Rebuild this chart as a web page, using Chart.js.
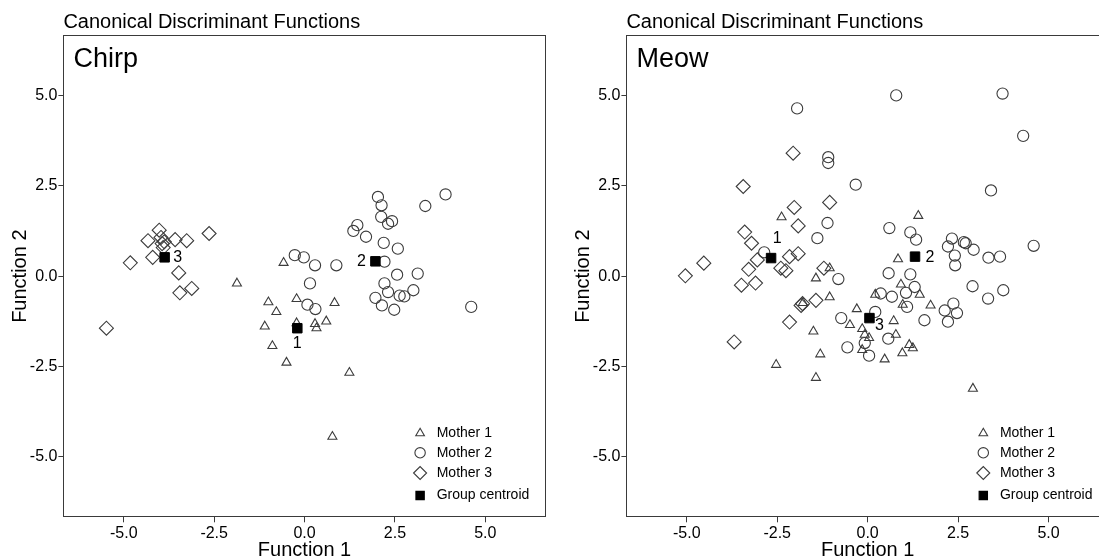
<!DOCTYPE html>
<html>
<head>
<meta charset="utf-8">
<script src="https://cdn.jsdelivr.net/npm/chart.js@4/dist/chart.umd.min.js"></script>
<style>
    html, body { margin: 0; padding: 0; background: #fff; overflow: hidden; }
    #wrap { position: relative; width: 1099px; height: 560px; overflow: hidden; }
    canvas { position: absolute; top: 0; }
    #chirpCanvas { left: 0; }
    #meowCanvas { left: 549px; }
</style>
</head>
<body>
<div id="wrap">
    <canvas id="chirpCanvas" width="549" height="560"></canvas>
    <canvas id="meowCanvas" width="562" height="560"></canvas>
</div>
<script>
// axis ticks (both functions, both panels)
const tickValues = [-5, -2.5, 0, 2.5, 5];
const axisMin = -6.67;
const axisMax = 6.67;

// Chirp panel: [function 1, function 2]
const chirpMother1 = [
    [-0.58, 0.37], [-1.87, -0.20], [-1.00, -0.72], [-0.78, -0.99], [-0.22, -0.63],
    [0.83, -0.74], [-1.10, -1.39], [-0.22, -1.30], [0.29, -1.32], [0.33, -1.44],
    [0.60, -1.25], [-0.89, -1.93], [-0.50, -2.39], [1.24, -2.67], [0.77, -4.44]
];
const chirpMother2 = [
    [-0.27, 0.58], [-0.02, 0.52], [0.29, 0.30], [0.88, 0.30], [2.03, 2.19],
    [2.13, 1.96], [1.46, 1.41], [1.35, 1.25], [1.70, 1.09], [2.12, 1.64],
    [2.31, 1.45], [2.42, 1.52], [2.19, 0.92], [2.58, 0.76], [3.34, 1.94],
    [3.90, 2.26], [2.21, 0.40], [2.56, 0.04], [3.13, 0.07], [0.15, -0.20],
    [2.21, -0.20], [2.31, -0.44], [1.96, -0.60], [2.14, -0.81], [2.48, -0.93],
    [2.63, -0.54], [2.76, -0.56], [3.01, -0.39], [4.61, -0.85], [0.08, -0.79],
    [0.30, -0.91]
];
const chirpMother3 = [
    [-4.82, 0.37], [-4.20, 0.52], [-4.33, 0.98], [-4.02, 1.27], [-3.97, 1.07],
    [-3.94, 0.90], [-3.91, 0.79], [-3.88, 0.95], [-3.58, 1.01], [-3.26, 0.98],
    [-2.64, 1.18], [-3.48, 0.09], [-3.45, -0.46], [-3.12, -0.34], [-5.48, -1.44]
];
const chirpCentroids = [[-0.20, -1.44], [1.96, 0.41], [-3.87, 0.52]];
const chirpCentroidLabels = ['1', '2', '3'];

// Meow panel
const meowMother1 = [
    [-2.38, 1.63], [1.40, 1.67], [0.84, 0.47], [-1.05, 0.22], [-1.43, -0.06],
    [0.92, -0.23], [-1.05, -0.58], [-1.79, -0.74], [0.21, -0.51], [1.44, -0.51],
    [0.97, -0.79], [1.74, -0.81], [-0.30, -0.91], [-0.49, -1.35], [-0.15, -1.46],
    [-0.08, -1.62], [0.04, -1.71], [0.72, -1.24], [0.78, -1.62], [-1.50, -1.53],
    [-1.31, -2.16], [-2.53, -2.45], [-1.43, -2.81], [-0.15, -2.04], [0.47, -2.30],
    [0.96, -2.13], [1.15, -1.90], [1.25, -1.99], [2.91, -3.11]
];
const meowMother2 = [
    [-1.95, 4.64], [0.79, 5.00], [3.73, 5.05], [4.30, 3.88], [-1.09, 3.29],
    [-1.09, 3.13], [-0.33, 2.53], [3.41, 2.37], [-1.11, 1.47], [-1.39, 1.05],
    [0.60, 1.33], [1.18, 1.21], [1.34, 1.01], [2.33, 1.04], [2.22, 0.82],
    [2.66, 0.94], [2.71, 0.91], [2.93, 0.73], [2.41, 0.57], [2.42, 0.30],
    [3.34, 0.51], [3.66, 0.54], [4.59, 0.84], [-2.86, 0.66], [0.58, 0.08],
    [1.18, 0.05], [-0.81, -0.08], [0.36, -0.48], [0.67, -0.57], [1.06, -0.46],
    [1.30, -0.30], [1.09, -0.85], [0.21, -0.99], [-0.73, -1.16], [1.57, -1.22],
    [2.13, -0.95], [2.37, -0.76], [2.47, -1.02], [2.22, -1.26], [2.90, -0.28],
    [3.33, -0.62], [3.75, -0.39], [0.57, -1.73], [-0.08, -1.85], [-0.56, -1.97],
    [0.04, -2.20]
];
const meowMother3 = [
    [-2.06, 3.40], [-3.44, 2.48], [-2.03, 1.90], [-1.05, 2.04], [-1.92, 1.39],
    [-3.40, 1.22], [-3.21, 0.91], [-4.53, 0.36], [-3.05, 0.45], [-3.29, 0.19],
    [-2.16, 0.54], [-1.92, 0.62], [-2.40, 0.22], [-2.26, 0.15], [-1.21, 0.22],
    [-5.04, 0.01], [-3.49, -0.25], [-3.10, -0.19], [-1.43, -0.67], [-1.84, -0.81],
    [-1.80, -0.76], [-2.16, -1.27], [-3.69, -1.82]
];
const meowCentroids = [[-2.67, 0.50], [1.31, 0.54], [0.05, -1.16]];
const meowCentroidLabels = ['1', '2', '3'];

const legendLabels = ['Mother 1', 'Mother 2', 'Mother 3', 'Group centroid'];

const FONT = "'Liberation Sans', Arial, Helvetica, sans-serif";
const MARK = '#3c3c3c';
const FRAME = '#3a3a3a';

Chart.defaults.font.family = FONT;
Chart.defaults.color = '#000';

function toPoints(rows) {
    return rows.map(r => ({ x: r[0], y: r[1] }));
}

function axisOptions(axis, titleText) {
    return {
        type: 'linear',
        position: axis === 'x' ? 'bottom' : 'left',
        min: axisMin,
        max: axisMax,
        afterBuildTicks: s => { s.ticks = tickValues.map(v => ({ value: v })); },
        afterFit: s => {
            if (axis === 'x') s.height = 42.7;
            else s.width = 63.4;
        },
        grid: { drawOnChartArea: false, drawTicks: true, tickLength: 5, color: FRAME, lineWidth: 1 },
        border: { display: false },
        ticks: {
            color: '#000',
            font: { size: 16 },
            padding: axis === 'x' ? 2 : 1,
            maxRotation: 0,
            autoSkip: false,
            callback: v => Number(v).toFixed(1)
        },
        title: {
            display: true,
            text: titleText,
            color: '#000',
            font: { size: 20, lineHeight: 1 },
            padding: axis === 'x' ? { top: 0, bottom: 0 } : { top: 10, bottom: 0 }
        }
    };
}

// frame, panel name, centroid numbers and the inside legend
const panelExtras = {
    id: 'panelExtras',
    beforeDatasetsDraw(chart, args, opts) {
        const a = chart.chartArea;
        const ctx = chart.ctx;
        ctx.save();
        ctx.strokeStyle = FRAME;
        ctx.lineWidth = 1;
        const l = Math.round(a.left) + 0.5, t = Math.round(a.top) + 0.5;
        const r = Math.round(a.right) - 0.5, b = Math.round(a.bottom) - 0.5;
        ctx.strokeRect(l, t, r - l, b - t);
        ctx.restore();
    },
    afterDraw(chart, args, opts) {
        const a = chart.chartArea;
        const ctx = chart.ctx;
        const xs = chart.scales.x, ys = chart.scales.y;
        ctx.save();

        ctx.fillStyle = '#000';
        ctx.textAlign = 'left';
        ctx.textBaseline = 'alphabetic';
        ctx.font = '27px ' + FONT;
        ctx.fillText(opts.name, a.left + 10, a.top + 32);

        // centroid numbers
        ctx.font = '16px ' + FONT;
        ctx.textAlign = 'center';
        ctx.textBaseline = 'middle';
        opts.centroids.forEach((c, i) => {
            const off = opts.labelOffsets[i];
            ctx.fillText(opts.centroidLabels[i], xs.getPixelForValue(c[0]) + off[0], ys.getPixelForValue(c[1]) + off[1]);
        });

        // legend
        const styles = [
            { pointStyle: 'triangle', radius: 5, fill: 'rgba(0,0,0,0)', stroke: MARK },
            { pointStyle: 'circle', radius: 5.2, fill: 'rgba(0,0,0,0)', stroke: MARK },
            { pointStyle: 'rectRot', radius: 6.5, fill: 'rgba(0,0,0,0)', stroke: MARK },
            { pointStyle: 'rect', radius: 5.9, fill: '#000', stroke: '#000' }
        ];
        const rowOffsets = [-84, -64.5, -44.3, -21.8];
        ctx.font = '14px ' + FONT;
        ctx.textAlign = 'left';
        legendLabels.forEach((text, i) => {
            const y = a.bottom + rowOffsets[i];
            const st = styles[i];
            ctx.fillStyle = st.fill;
            ctx.strokeStyle = st.stroke;
            ctx.lineWidth = 1.1;
            Chart.helpers.drawPoint(ctx, { pointStyle: st.pointStyle, radius: st.radius, borderWidth: 1.1, rotation: 0 }, a.right - 125.6, y);
            ctx.fillStyle = '#000';
            ctx.fillText(text, a.right - 109, y);
        });
        ctx.restore();
    }
};

function plotPanel(setting = {}) {
    return new Chart(document.getElementById(setting.id), {
        type: 'scatter',
        data: {
            datasets: [
                {
                    label: 'Group centroid',
                    data: toPoints(setting.centroids),
                    pointStyle: 'rect',
                    pointRadius: 6.7,
                    backgroundColor: '#000',
                    borderColor: '#000',
                    borderWidth: 1
                },
                {
                    label: 'Mother 1',
                    data: toPoints(setting.mother1),
                    pointStyle: 'triangle',
                    pointRadius: 5.2,
                    backgroundColor: 'rgba(0,0,0,0)',
                    borderColor: MARK,
                    borderWidth: 1.1
                },
                {
                    label: 'Mother 2',
                    data: toPoints(setting.mother2),
                    pointStyle: 'circle',
                    pointRadius: 5.6,
                    backgroundColor: 'rgba(0,0,0,0)',
                    borderColor: MARK,
                    borderWidth: 1.1
                },
                {
                    label: 'Mother 3',
                    data: toPoints(setting.mother3),
                    pointStyle: 'rectRot',
                    pointRadius: 7,
                    backgroundColor: 'rgba(0,0,0,0)',
                    borderColor: MARK,
                    borderWidth: 1.1
                }
            ]
        },
        options: {
            responsive: false,
            animation: false,
            layout: {
                autoPadding: false,
                padding: { left: setting.padLeft, right: setting.padRight, top: 0, bottom: 0 }
            },
            plugins: {
                legend: { display: false },
                tooltip: { enabled: false },
                title: {
                    display: true,
                    text: 'Canonical Discriminant Functions',
                    align: 'start',
                    fullSize: false,
                    color: '#000',
                    font: { size: 20, weight: 'normal', lineHeight: 1.2 },
                    padding: { top: 10, bottom: 1 }
                },
                panelExtras: {
                    name: setting.name,
                    centroids: setting.centroids,
                    centroidLabels: setting.centroidLabels,
                    labelOffsets: setting.labelOffsets
                }
            },
            scales: {
                x: axisOptions('x', 'Function 1'),
                y: axisOptions('y', 'Function 2')
            }
        },
        plugins: [panelExtras]
    });
}

plotPanel({
    id: 'chirpCanvas',
    name: 'Chirp',
    mother1: chirpMother1,
    mother2: chirpMother2,
    mother3: chirpMother3,
    centroids: chirpCentroids,
    centroidLabels: chirpCentroidLabels,
    labelOffsets: [[0, 15], [-14, 0], [13, 0]],
    padLeft: 0,
    padRight: 3.3
});

plotPanel({
    id: 'meowCanvas',
    name: 'Meow',
    mother1: meowMother1,
    mother2: meowMother2,
    mother3: meowMother3,
    centroids: meowCentroids,
    centroidLabels: meowCentroidLabels,
    labelOffsets: [[6, -19], [15, 1], [10, 8]],
    padLeft: 14,
    padRight: 2.1
});
</script>
</body>
</html>
